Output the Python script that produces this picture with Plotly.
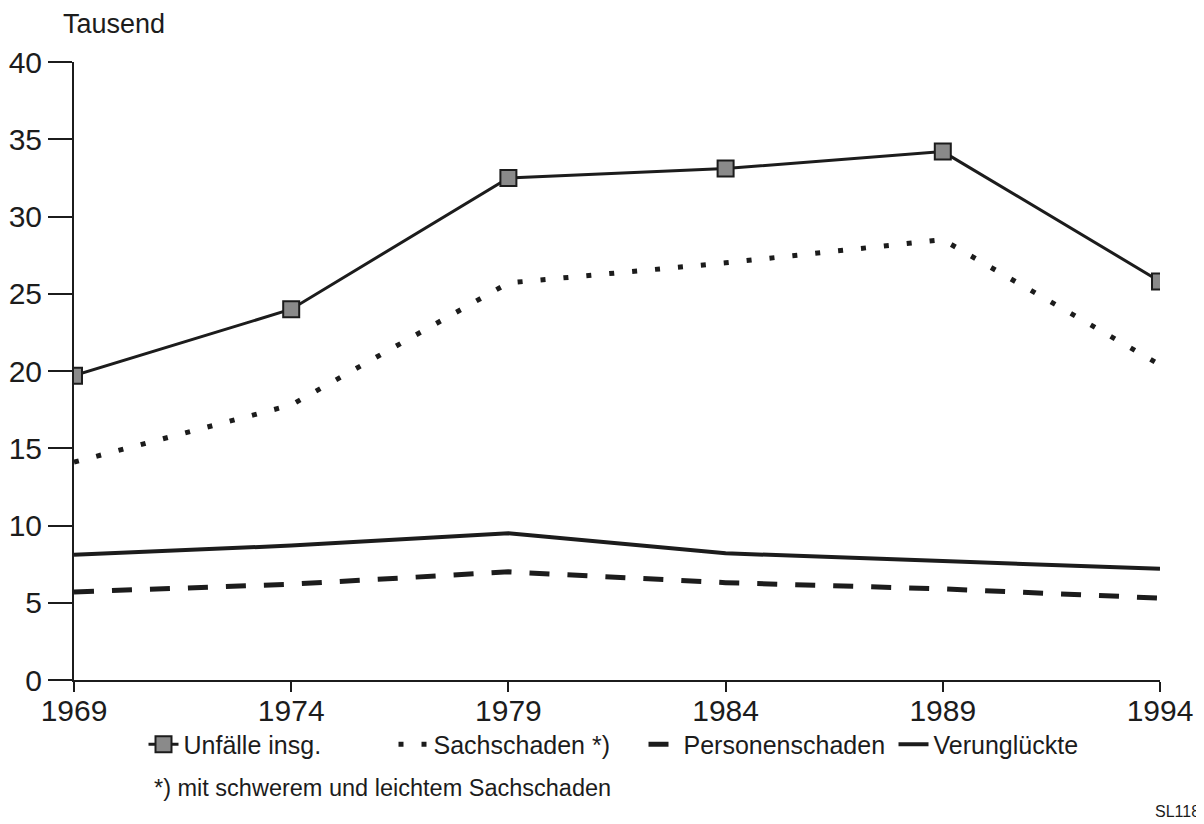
import plotly.graph_objects as go

# Straßenverkehrsunfälle, Tausend
years = [1969, 1974, 1979, 1984, 1989, 1994]
unfaelle = [19.7, 24.0, 32.5, 33.1, 34.2, 25.8]
sachschaden = [14.1, 17.8, 25.7, 27.0, 28.5, 20.4]
personenschaden = [5.7, 6.2, 7.0, 6.3, 5.9, 5.3]
verunglueckte = [8.1, 8.7, 9.5, 8.2, 7.7, 7.2]

y_ticks = [0, 5, 10, 15, 20, 25, 30, 35, 40]

INK = "#1c1c1c"
FONT = "Liberation Sans, Arial, sans-serif"

fig = go.Figure()

fig.add_trace(go.Scatter(
    x=years, y=unfaelle, name="Unfälle insg.",
    mode="lines+markers",
    line={"color": INK, "width": 3},
    marker={"symbol": "square", "size": 16, "color": "#8a8a8a",
            "line": {"color": INK, "width": 2}},
))
fig.add_trace(go.Scatter(
    x=years, y=sachschaden, name="Sachschaden *)",
    mode="lines",
    line={"color": INK, "width": 5, "dash": "5px,18px"},
))
fig.add_trace(go.Scatter(
    x=years, y=personenschaden, name="Personenschaden",
    mode="lines",
    line={"color": INK, "width": 5, "dash": "20px,18px"},
))
fig.add_trace(go.Scatter(
    x=years, y=verunglueckte, name="Verunglückte",
    mode="lines",
    line={"color": INK, "width": 4},
))

fig.update_xaxes(
    range=[1969, 1994],
    tickvals=years,
    ticks="outside", ticklen=10, tickwidth=2, tickcolor=INK,
    ticklabelstandoff=-7,
    showline=True, linewidth=2, linecolor=INK,
    showgrid=False, zeroline=False, automargin=False,
    tickfont={"size": 30, "color": INK},
)
fig.update_yaxes(
    range=[0, 40],
    tickvals=y_ticks,
    ticks="outside", ticklen=24, tickwidth=2, tickcolor=INK,
    showline=True, linewidth=2, linecolor=INK,
    showgrid=False, zeroline=False, automargin=False,
    tickfont={"size": 30, "color": INK},
)

fig.add_annotation(
    text="Tausend", xref="paper", yref="paper", x=-0.012, y=1.062,
    xanchor="left", yanchor="middle", showarrow=False,
    font={"size": 27, "color": INK},
)
fig.add_annotation(
    text="*) mit schwerem und leichtem Sachschaden",
    xref="paper", yref="paper", x=0.072, y=-0.175,
    xanchor="left", yanchor="middle", showarrow=False,
    font={"size": 23.5, "color": INK},
)
fig.add_annotation(
    text="SL118", xref="paper", yref="paper", x=1.0387, y=-0.213,
    xanchor="right", yanchor="middle", showarrow=False,
    font={"size": 16, "color": INK},
)

# the page body adds an 8px offset, so margins are shifted to compensate
fig.update_layout(
    width=1204, height=824,
    margin={"l": 66, "r": 52, "t": 54, "b": 152},
    paper_bgcolor="white", plot_bgcolor="white",
    font={"family": FONT, "color": INK},
    legend={
        "orientation": "h", "x": 0.064, "y": -0.067,
        "xanchor": "left", "yanchor": "top",
        "font": {"size": 25, "color": INK},
        "itemwidth": 30, "tracegroupgap": 0,
        "entrywidth": 205, "entrywidthmode": "pixels",
        "bgcolor": "rgba(0,0,0,0)",
    },
)

fig.write_html("out.html")
